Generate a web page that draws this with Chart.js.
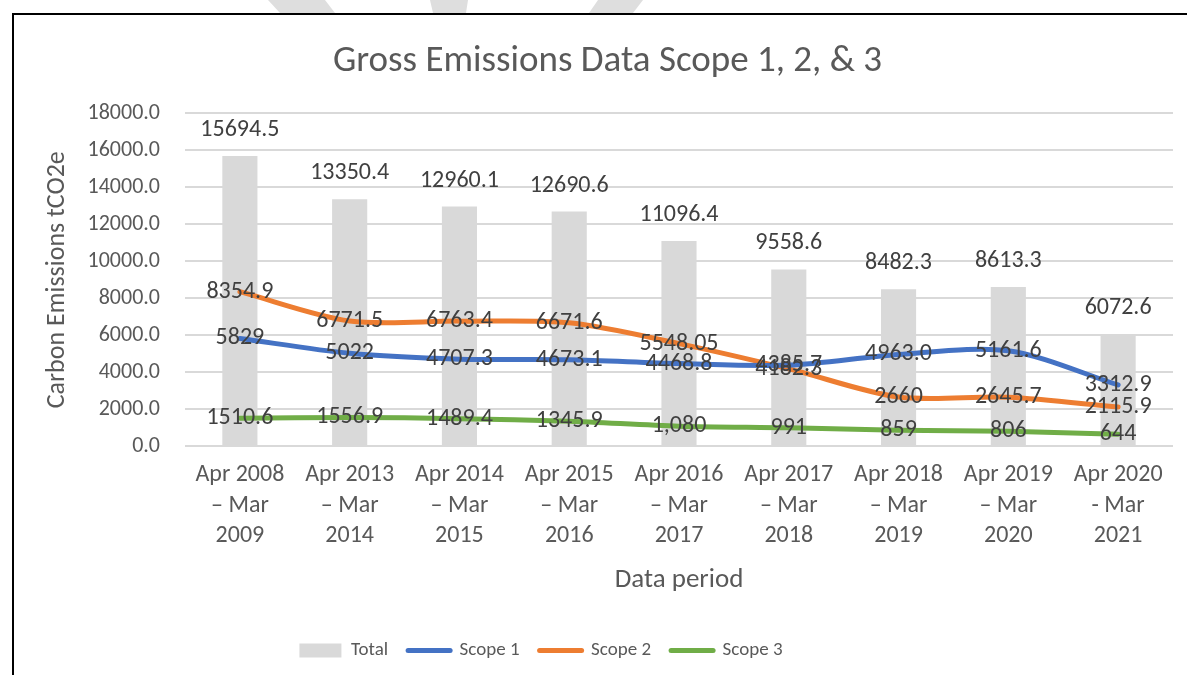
<!DOCTYPE html>
<html>
<head>
<meta charset="utf-8">
<script src="https://cdn.jsdelivr.net/npm/chart.js@4"></script>
<style>
  html, body { margin: 0; padding: 0; background: #fff; overflow: hidden; }
  #wrap { position: absolute; left: 0; top: 0; width: 1187px; height: 675px; }
  #frame { position: absolute; left: 12px; top: 13px; width: 1200px; height: 700px;
           border-left: 2px solid #000; border-top: 2px solid #000; pointer-events: none; }
  .mark { position: absolute; top: 0; left: 0; width: 1187px; height: 13px; background: #dedede; }
  #m1 { clip-path: polygon(268px 0, 325px 0, 335px 13px, 280px 13px); }
  #m2 { clip-path: polygon(430px 0, 468px 0, 466px 13px, 433px 13px); }
  #m3 { clip-path: polygon(598px 0, 643px 0, 633px 13px, 589px 13px); }
</style>
</head>
<body>
<div id="wrap"><canvas id="chart" width="1187" height="675"></canvas></div>
<div class="mark" id="m1"></div>
<div class="mark" id="m2"></div>
<div class="mark" id="m3"></div>
<div id="frame"></div>
<script>
// Data
const periods = [
    ["Apr 2008", "\u2013 Mar", "2009"],
    ["Apr 2013", "\u2013 Mar", "2014"],
    ["Apr 2014", "\u2013 Mar", "2015"],
    ["Apr 2015", "\u2013 Mar", "2016"],
    ["Apr 2016", "\u2013 Mar", "2017"],
    ["Apr 2017", "\u2013 Mar", "2018"],
    ["Apr 2018", "\u2013 Mar", "2019"],
    ["Apr 2019", "\u2013 Mar", "2020"],
    ["Apr 2020", "- Mar", "2021"]
];
const total  = [15694.5, 13350.4, 12960.1, 12690.6, 11096.4, 9558.6, 8482.3, 8613.3, 6072.6];
const scope1 = [5829, 5022, 4707.3, 4673.1, 4468.8, 4385.7, 4963.0, 5161.6, 3312.9];
const scope2 = [8354.9, 6771.5, 6763.4, 6671.6, 5548.05, 4182.3, 2660, 2645.7, 2115.9];
const scope3 = [1510.6, 1556.9, 1489.4, 1345.9, 1080, 991, 859, 806, 644];

// label text exactly as printed on the chart
const totalText  = total.map(v => v.toFixed(1));
const scope1Text = ["5829", "5022", "4707.3", "4673.1", "4468.8", "4385.7", "4963.0", "5161.6", "3312.9"];
const scope2Text = ["8354.9", "6771.5", "6763.4", "6671.6", "5548.05", "4182.3", "2660", "2645.7", "2115.9"];
const scope3Text = ["1510.6", "1556.9", "1489.4", "1345.9", "1,080", "991", "859", "806", "644"];

const yTicks = [0, 2000, 4000, 6000, 8000, 10000, 12000, 14000, 16000, 18000];

const FONT = "Carlito, Calibri, Lato, sans-serif";
const TEXT = "#595959";

// draws value labels: above the bars, centred on the line points
const valueLabels = {
    id: "valueLabels",
    afterDatasetsDraw(chart) {
        const ctx = chart.ctx;
        ctx.save();
        ctx.font = "24px " + FONT;
        ctx.fillStyle = "#404040";
        ctx.textAlign = "center";
        ctx.textBaseline = "middle";
        chart.data.datasets.forEach((ds, di) => {
            const meta = chart.getDatasetMeta(di);
            meta.data.forEach((el, i) => {
                const txt = ds.labelText[i];
                if (ds.type === "bar") {
                    ctx.fillText(txt, el.x, el.y - 26);
                } else {
                    ctx.fillText(txt, el.x, el.y);
                }
            });
        });
        ctx.restore();
    }
};

// the legend in the original sits left of the plot centre
const legendShift = {
    id: "legendShift",
    afterLayout(chart) {
        const lg = chart.legend;
        const pad = lg.options.labels.padding;
        const delta = 551 - (lg.left + lg.right + pad) / 2;
        lg.left += delta;
        lg.right += delta;
    }
};

new Chart(document.getElementById("chart"), {
    data: {
        labels: periods,
        datasets: [
            { type: "bar", label: "Total", data: total, labelText: totalText,
              backgroundColor: "#d9d9d9", borderWidth: 0,
              barPercentage: 0.32, categoryPercentage: 1, order: 4 },
            { type: "line", label: "Scope 1", data: scope1, labelText: scope1Text,
              borderColor: "#4472c4", backgroundColor: "#4472c4", borderWidth: 5,
              pointRadius: 0, tension: 0.3, borderCapStyle: "round", order: 1 },
            { type: "line", label: "Scope 2", data: scope2, labelText: scope2Text,
              borderColor: "#ed7d31", backgroundColor: "#ed7d31", borderWidth: 5,
              pointRadius: 0, tension: 0.3, borderCapStyle: "round", order: 2 },
            { type: "line", label: "Scope 3", data: scope3, labelText: scope3Text,
              borderColor: "#70ad47", backgroundColor: "#70ad47", borderWidth: 5,
              pointRadius: 0, tension: 0.3, borderCapStyle: "round", order: 3 }
        ]
    },
    options: {
        responsive: false,
        animation: false,
        layout: { padding: { left: 42, right: 14, top: 40, bottom: 5 } },
        plugins: {
            title: {
                display: true,
                text: "Gross Emissions Data Scope 1, 2, & 3",
                color: TEXT,
                font: { family: FONT, size: 37, weight: "normal", lineHeight: 1.2 },
                padding: { top: 0, bottom: 29 }
            },
            legend: {
                position: "bottom",
                labels: {
                    color: TEXT,
                    font: { family: FONT, size: 19 },
                    usePointStyle: true,
                    pointStyleWidth: 42,
                    boxHeight: 14,
                    padding: 20,
                    generateLabels(chart) {
                        return chart.data.datasets.map((ds, i) => ({
                            text: ds.label,
                            fillStyle: ds.backgroundColor,
                            strokeStyle: ds.type === "bar" ? ds.backgroundColor : ds.borderColor,
                            lineWidth: ds.type === "bar" ? 0 : 5,
                            lineCap: "round",
                            pointStyle: ds.type === "bar" ? "rect" : "line",
                            fontColor: TEXT,
                            hidden: false,
                            datasetIndex: i
                        }));
                    }
                }
            },
            tooltip: { enabled: false }
        },
        scales: {
            x: {
                grid: { display: false, drawTicks: false },
                border: { display: false },
                ticks: {
                    color: TEXT,
                    font: { family: FONT, size: 24, lineHeight: 1.27 },
                    padding: 14,
                    maxRotation: 0,
                    autoSkip: false
                },
                title: {
                    display: true,
                    text: "Data period",
                    color: TEXT,
                    font: { family: FONT, size: 27, lineHeight: 1.2 },
                    padding: { top: -2, bottom: 25 }
                }
            },
            y: {
                min: 0,
                max: 18000,
                afterBuildTicks(scale) {
                    scale.ticks = yTicks.map(v => ({ value: v }));
                },
                grid: { color: "#d9d9d9", lineWidth: 2, drawTicks: false },
                border: { display: false },
                ticks: {
                    color: TEXT,
                    font: { family: FONT, size: 22 },
                    padding: 25,
                    callback: v => Number(v).toFixed(1)
                },
                title: {
                    display: true,
                    text: "Carbon Emissions tCO2e",
                    color: TEXT,
                    font: { family: FONT, size: 26, lineHeight: 1.2 },
                    padding: { top: 0, bottom: 4 }
                },
                afterFit(scale) { scale.width = 143; }
            }
        }
    },
    plugins: [valueLabels, legendShift]
});
</script>
</body>
</html>
